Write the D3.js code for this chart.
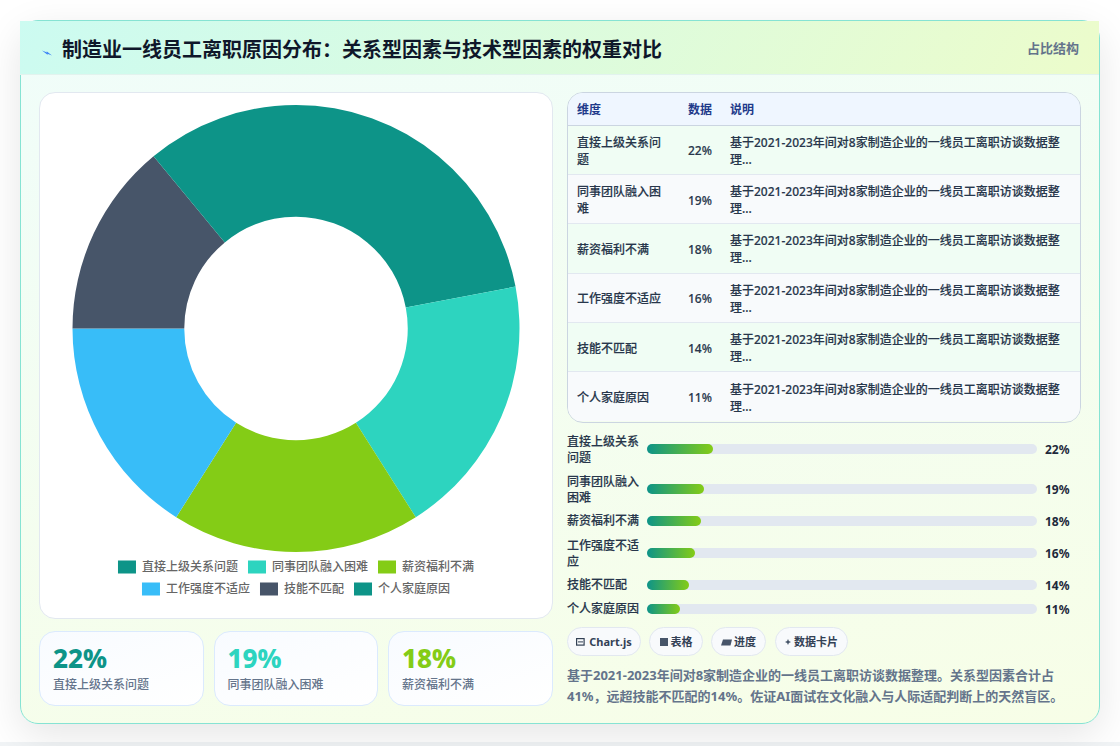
<!DOCTYPE html>
<html lang="zh">
<head>
<meta charset="utf-8">
<script src="https://cdn.jsdelivr.net/npm/d3@7/dist/d3.min.js"></script>
<style>
*{box-sizing:border-box;margin:0;padding:0}
html,body{width:1120px;height:746px;overflow:hidden;background:#fff;font-family:"Noto Sans","Noto Sans CJK SC",sans-serif}
#strip{position:absolute;left:0;top:742px;width:1120px;height:4px;background:#f1f4f6}
#card{position:absolute;left:20px;top:20px;width:1080px;height:704px;border:1px solid #86e3d3;border-radius:18px;background:linear-gradient(170deg,#f0fdfa,#f7fee7);box-shadow:0 12px 40px rgba(0,0,0,.10)}
#head{position:absolute;left:-1px;top:0;width:1079px;height:54px;background:linear-gradient(120deg,#ccfbf1,#ecfccb);border-bottom:1px solid #e2f3ee}
#title{position:absolute;left:21px;top:15px;font-size:20px;font-weight:700;color:#0f172a;white-space:nowrap;line-height:28px}
#title svg{vertical-align:1px;margin-right:10px}
#tag{position:absolute;right:20px;top:17px;font-size:13px;line-height:20px;font-weight:700;color:#64748b}
.panel{position:absolute;background:#fff;border:1px solid #e2e8f0;border-radius:16px}
#pie{left:18px;top:71px;width:514px;height:527px}
#pie svg{position:absolute;left:0;top:0}
.stat{position:absolute;top:610px;height:75px;border:1px solid #dbeafe;border-radius:16px;background:linear-gradient(160deg,#f8fbff,#fff)}
.stat b{position:absolute;left:13px;top:9px;font-size:26px;line-height:34px;font-weight:800}
.stat span{position:absolute;left:13px;top:44px;font-size:12px;line-height:18px;font-weight:500;color:#64748b}
#tablebox{position:absolute;left:546px;top:71px;width:514px;height:331px;border:1px solid #cbd5e1;border-radius:16px;overflow:hidden}
table{border-collapse:collapse;width:100%;font-size:12px;table-layout:fixed}
th{height:32px;background:#eff6ff;color:#1e3a8a;text-align:left;padding:0 9px;font-weight:700;border-bottom:1px solid #cbd5e1}
td{height:49.4px;padding:2px 9px 0;line-height:17px;font-weight:500;color:#27364b;border-bottom:1px solid #e2e8f0;-webkit-text-stroke:.15px #27364b}
tr:last-child td{border-bottom:none}
tbody tr:nth-child(odd){background:#f0fdf4}
tbody tr:nth-child(even){background:#f8fafc}
#bars{position:absolute;left:546px;top:0;width:514px}
.rowlabel{position:absolute;left:0;width:76px;font-size:12px;line-height:16.5px;font-weight:500;color:#27364b;-webkit-text-stroke:.15px #27364b}
.rowval{position:absolute;left:478px;font-size:12px;line-height:17px;font-weight:700;color:#1e293b}
#bars svg{position:absolute;left:80px;top:0}
.chip{position:absolute;top:606px;height:29px;border:1px solid #e2e8f0;border-radius:15px;background:#f8fafc;font-size:11px;line-height:27px;font-weight:700;color:#334155;white-space:nowrap;text-align:center}
#note{position:absolute;left:546px;top:644px;width:514px;font-size:13px;line-height:21px;font-weight:700;color:#64748b}
</style>
</head>
<body>
<div id="strip"></div>
<div id="card">
  <div id="head"></div>
  <div id="title"></div>
  <div id="tag">占比结构</div>
  <div class="panel" id="pie"></div>
  <div id="tablebox"></div>
  <div id="bars"></div>
  <div id="note"></div>
</div>
<script>
// 离职原因及占比
const reasons = ["直接上级关系问题","同事团队融入困难","薪资福利不满","工作强度不适应","技能不匹配","个人家庭原因"];
const shares = [22,19,18,16,14,11];
const sliceColors = ["#0d9488","#2dd4bf","#84cc16","#38bdf8","#475569","#0d9488"];
const titleText = "制造业一线员工离职原因分布：关系型因素与技术型因素的权重对比";
const tableHead = ["维度","数据","说明"];
const rowNote = "基于2021-2023年间对8家制造企业的一线员工离职访谈数据整理...";
const chips = ["Chart.js","表格","进度","数据卡片"];
const noteText = "基于2021-2023年间对8家制造企业的一线员工离职访谈数据整理。关系型因素合计占41%，远超技能不匹配的14%。佐证AI面试在文化融入与人际适配判断上的天然盲区。";
const pct = v => v + "%";

// 标题与闪电图标
const title = d3.select("#title");
const bolt = title.append("svg").attr("width",10).attr("height",6).attr("viewBox","0 0 10 6");
bolt.append("path").attr("d","M0 0.5 L5 2.4 L4.6 1.2 L10 5.4 L5.4 3.8 L5.8 5 Z").attr("fill","#3b82f6");
title.append("span").text(titleText);

// 环形图
const pieW = 512, pieH = 525, cx = 256, cy = 235.5;
const pieSvg = d3.select("#pie").append("svg").attr("width",pieW).attr("height",pieH);
const outerR = 223.5;
const slices = d3.pie().sort(null).value(d => d)(shares);
const arc = d3.arc().innerRadius(outerR*0.5).outerRadius(outerR);
pieSvg.append("g").attr("transform",`translate(${cx},${cy})`)
  .selectAll("path").data(slices).join("path")
  .attr("d",arc).attr("fill",(d,i)=>sliceColors[i]);

// 图例分两行居中
const legendRows = [[0,1,2],[3,4,5]];
const legendY = [474,496];
const swatchW = 18, swatchH = 13, labelGap = 6, itemGap = 10;
const measure = pieSvg.append("text").attr("font-size",12).attr("font-weight",500);
const textW = s => { measure.text(s); return measure.node().getComputedTextLength(); };
legendRows.forEach((row,r) => {
  const widths = row.map(i => swatchW+labelGap+textW(reasons[i]));
  const total = d3.sum(widths)+itemGap*(row.length-1);
  let x = cx - total/2;
  row.forEach((i,k) => {
    pieSvg.append("rect").attr("x",x).attr("y",legendY[r]-swatchH/2).attr("width",swatchW).attr("height",swatchH).attr("fill",sliceColors[i]);
    pieSvg.append("text").attr("x",x+swatchW+labelGap).attr("y",legendY[r]+4).attr("font-size",12).attr("font-weight",500).attr("fill","#666").text(reasons[i]);
    x += widths[k]+itemGap;
  });
});
measure.remove();

// 数据卡片：取前三项
const statX = d3.scaleBand().domain(d3.range(3)).range([18,532]).paddingInner(0.055);
d3.select("#card").selectAll(".stat").data(d3.range(3)).join("div").attr("class","stat")
  .style("left",i=>statX(i)+"px").style("width",statX.bandwidth()+"px")
  .each(function(i){
    const s = d3.select(this);
    s.append("b").style("color",sliceColors[i]).text(pct(shares[i]));
    s.append("span").text(reasons[i]);
  });

// 明细表
const table = d3.select("#tablebox").append("table");
const colgroup = table.append("colgroup");
[111,42,361].forEach(w => colgroup.append("col").style("width",w+"px"));
table.append("thead").append("tr").selectAll("th").data(tableHead).join("th").text(d=>d);
const tr = table.append("tbody").selectAll("tr").data(reasons).join("tr");
tr.append("td").text(d=>d);
tr.append("td").text((d,i)=>pct(shares[i]));
tr.append("td").text(rowNote);

// 进度条
const barScale = d3.scaleLinear().domain([0,130]).range([0,390]);
const barCy = [428,468,500,532,564,588];
const bars = d3.select("#bars");
const barSvg = bars.append("svg").attr("width",400).attr("height",640);
const grad = barSvg.append("defs").selectAll("linearGradient").data(shares).join("linearGradient")
  .attr("id",(d,i)=>"fill"+i);
grad.append("stop").attr("offset","0%").attr("stop-color","#0d9488");
grad.append("stop").attr("offset","100%").attr("stop-color","#84cc16");
reasons.forEach((name,i) => {
  const y = barCy[i];
  const wrapped = name.length > 6;
  bars.append("div").attr("class","rowlabel").style("top",(y-(wrapped?15.5:8.25))+"px").text(name);
  bars.append("div").attr("class","rowval").style("top",(y-8.5)+"px").text(pct(shares[i]));
  barSvg.append("rect").attr("x",0).attr("y",y-5).attr("width",barScale.range()[1]).attr("height",10).attr("rx",5).attr("fill","#e2e8f0");
  barSvg.append("rect").attr("x",0).attr("y",y-5).attr("width",barScale(shares[i])).attr("height",10).attr("rx",5).attr("fill",`url(#fill${i})`);
});

// 标签
const chipIcons = [
  g => { g.append("rect").attr("x",0.6).attr("y",1.6).attr("width",7.5).attr("height",6.5).attr("fill","none").attr("stroke","#334155").attr("stroke-width",1.2); g.append("rect").attr("x",2).attr("y",4.4).attr("width",5).attr("height",1).attr("fill","#334155"); },
  g => g.append("rect").attr("x",0).attr("y",1).attr("width",8).attr("height",8).attr("fill","#475569"),
  g => g.append("path").attr("d","M2 2.5 H11 L9.5 8.5 H0 Z").attr("fill","#475569"),
  g => g.append("path").attr("d","M3 2 L3.9 4.1 L6 5 L3.9 5.9 L3 8 L2.1 5.9 L0 5 L2.1 4.1 Z").attr("fill","#475569")
];
const chipLefts = [546,628,690,754], chipWidths = [74,54,55,73], chipIconW = [13,11,13,9];
chips.forEach((c,i) => {
  const chip = d3.select("#card").append("div").attr("class","chip")
    .style("left",chipLefts[i]+"px").style("width",chipWidths[i]+"px");
  const ic = chip.append("svg").attr("width",chipIconW[i]).attr("height",10).style("vertical-align","-1px");
  chipIcons[i](ic.append("g"));
  chip.append("span").text(c);
});

d3.select("#note").text(noteText);
</script>
</body>
</html>
